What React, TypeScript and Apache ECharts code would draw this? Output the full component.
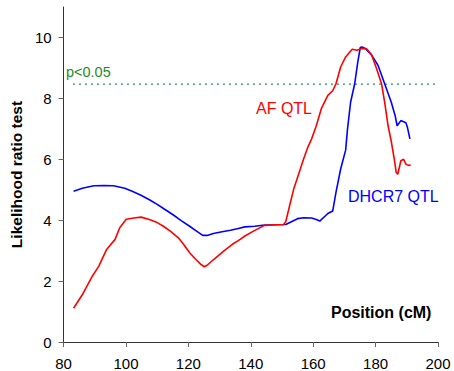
import React, { useEffect, useRef } from "react";
import * as echarts from "echarts";

const afPositions = [83.2, 86, 89.2, 91.3, 93.8, 96.5, 98, 100.1, 102.5, 104.8, 107.5, 110, 112, 114.2, 116.8, 118.5, 120.4, 122.5, 124, 125.1, 126, 128, 131.5, 134, 136.6, 138.1, 141, 144.4, 148, 150.5, 151.2, 152.5, 153.75, 155.3, 156.9, 158.3, 159.5, 161, 162.6, 164.7, 166.25, 167.3, 168.8, 170.4, 172.5, 174, 175.6, 177.2, 178.75, 180.3, 181.9, 182.9, 184, 185, 186, 186.6, 187.1, 188.1, 189, 189.7, 190.5, 191.25];
const afValues = [1.11, 1.55, 2.16, 2.49, 3.04, 3.37, 3.75, 4.03, 4.07, 4.1, 4.02, 3.92, 3.8, 3.64, 3.42, 3.2, 2.93, 2.7, 2.55, 2.47, 2.52, 2.7, 3.0, 3.2, 3.37, 3.48, 3.65, 3.83, 3.85, 3.86, 3.95, 4.5, 5.02, 5.5, 6.0, 6.4, 6.67, 7.1, 7.66, 8.1, 8.25, 8.48, 9.03, 9.36, 9.61, 9.58, 9.64, 9.62, 9.42, 8.98, 8.48, 7.88, 7.1, 6.6, 6.0, 5.57, 5.51, 5.95, 6.0, 5.84, 5.8, 5.81];

const dhcrPositions = [83.2, 86, 89.7, 93, 96, 99.6, 102, 104.8, 107.5, 110, 112.5, 115.2, 117.8, 120.4, 122.5, 124.6, 126, 128, 130.8, 133.5, 136, 138.1, 141.3, 144.4, 148, 151.2, 153, 155, 156.9, 159.5, 161, 162.1, 164.7, 166.25, 167.3, 168.8, 170.4, 171, 172, 173.3, 174.3, 175.1, 175.6, 176.7, 178.75, 180.8, 182.9, 185, 186.25, 186.9, 188.1, 189.7, 190.2, 191];
const dhcrValues = [4.95, 5.05, 5.13, 5.14, 5.13, 5.05, 4.95, 4.82, 4.67, 4.52, 4.35, 4.17, 3.98, 3.8, 3.65, 3.5, 3.5, 3.56, 3.62, 3.67, 3.73, 3.78, 3.8, 3.84, 3.85, 3.86, 3.95, 4.05, 4.08, 4.07, 4.02, 3.97, 4.22, 4.3, 4.91, 5.68, 6.3, 7.0, 7.88, 8.48, 9.2, 9.67, 9.69, 9.64, 9.42, 9.08, 8.48, 7.88, 7.44, 7.1, 7.27, 7.2, 7.05, 6.67];

const thresholdPositions = [83, 200];
const thresholdValue = 8.47;

const xTicks = [80, 100, 120, 140, 160, 180, 200];
const yTicks = [0, 2, 4, 6, 8, 10];

const FONT = "'Liberation Sans', Arial, sans-serif";

export default function App() {
  const ref = useRef<HTMLDivElement>(null);
  useEffect(() => {
    if (!ref.current) return;
    const chart = echarts.init(ref.current, null, { renderer: "svg" });
    const zip = (xs: number[], ys: number[]) => xs.map((x, i) => [x, ys[i]]);
    chart.setOption({
      animation: false,
      grid: { left: 54, right: 16, top: 7, bottom: 29, containLabel: false },
      xAxis: {
        type: "value",
        min: 80,
        max: 200,
        interval: 20,
        splitLine: { show: false },
        axisLine: { lineStyle: { color: "#333", width: 1 } },
        axisTick: { inside: false, length: 5, lineStyle: { color: "#666" }, customValues: xTicks },
        axisLabel: { color: "#000", fontSize: 15, fontFamily: FONT, margin: 14, customValues: xTicks },
      },
      yAxis: {
        type: "value",
        min: 0,
        max: 11,
        interval: 2,
        splitLine: { show: false },
        axisLine: { show: true, lineStyle: { color: "#333", width: 1 } },
        axisTick: { show: true, length: 5, lineStyle: { color: "#666" }, customValues: yTicks },
        axisLabel: { color: "#000", fontSize: 15, fontFamily: FONT, margin: 12, customValues: yTicks },
        name: "Likelihood ratio test",
        nameLocation: "middle",
        nameGap: 31,
        nameTextStyle: { color: "#000", fontSize: 15.5, fontWeight: "bold", fontFamily: FONT },
      },
      series: [
        {
          name: "threshold",
          type: "line",
          data: thresholdPositions.map((x) => [x, thresholdValue]),
          symbol: "none",
          lineStyle: { color: "#2e8b57", width: 1.3, type: [2, 4] },
          silent: true,
        },
        {
          name: "DHCR7 QTL",
          type: "line",
          data: zip(dhcrPositions, dhcrValues),
          symbol: "none",
          lineStyle: { color: "#0000ff", width: 1.6 },
        },
        {
          name: "AF QTL",
          type: "line",
          data: zip(afPositions, afValues),
          symbol: "none",
          lineStyle: { color: "#ff0000", width: 1.6 },
        },
      ],
      graphic: [
        { type: "text", left: 66, top: 64, style: { text: "p<0.05", fill: "#1e8c1e", font: `14.5px ${FONT}` } },
        { type: "text", left: 256, top: 100, style: { text: "AF QTL", fill: "#ff0000", font: `16px ${FONT}` } },
        { type: "text", left: 348, top: 188, style: { text: "DHCR7 QTL", fill: "#0000ff", font: `16px ${FONT}` } },
        { type: "text", left: 331, top: 304, style: { text: "Position (cM)", fill: "#000", font: `bold 16px ${FONT}` } },
      ],
    });
    return () => chart.dispose();
  }, []);
  return <div ref={ref} style={{ width: 454, height: 371, position: "absolute", left: 0, top: 0 }} />;
}
